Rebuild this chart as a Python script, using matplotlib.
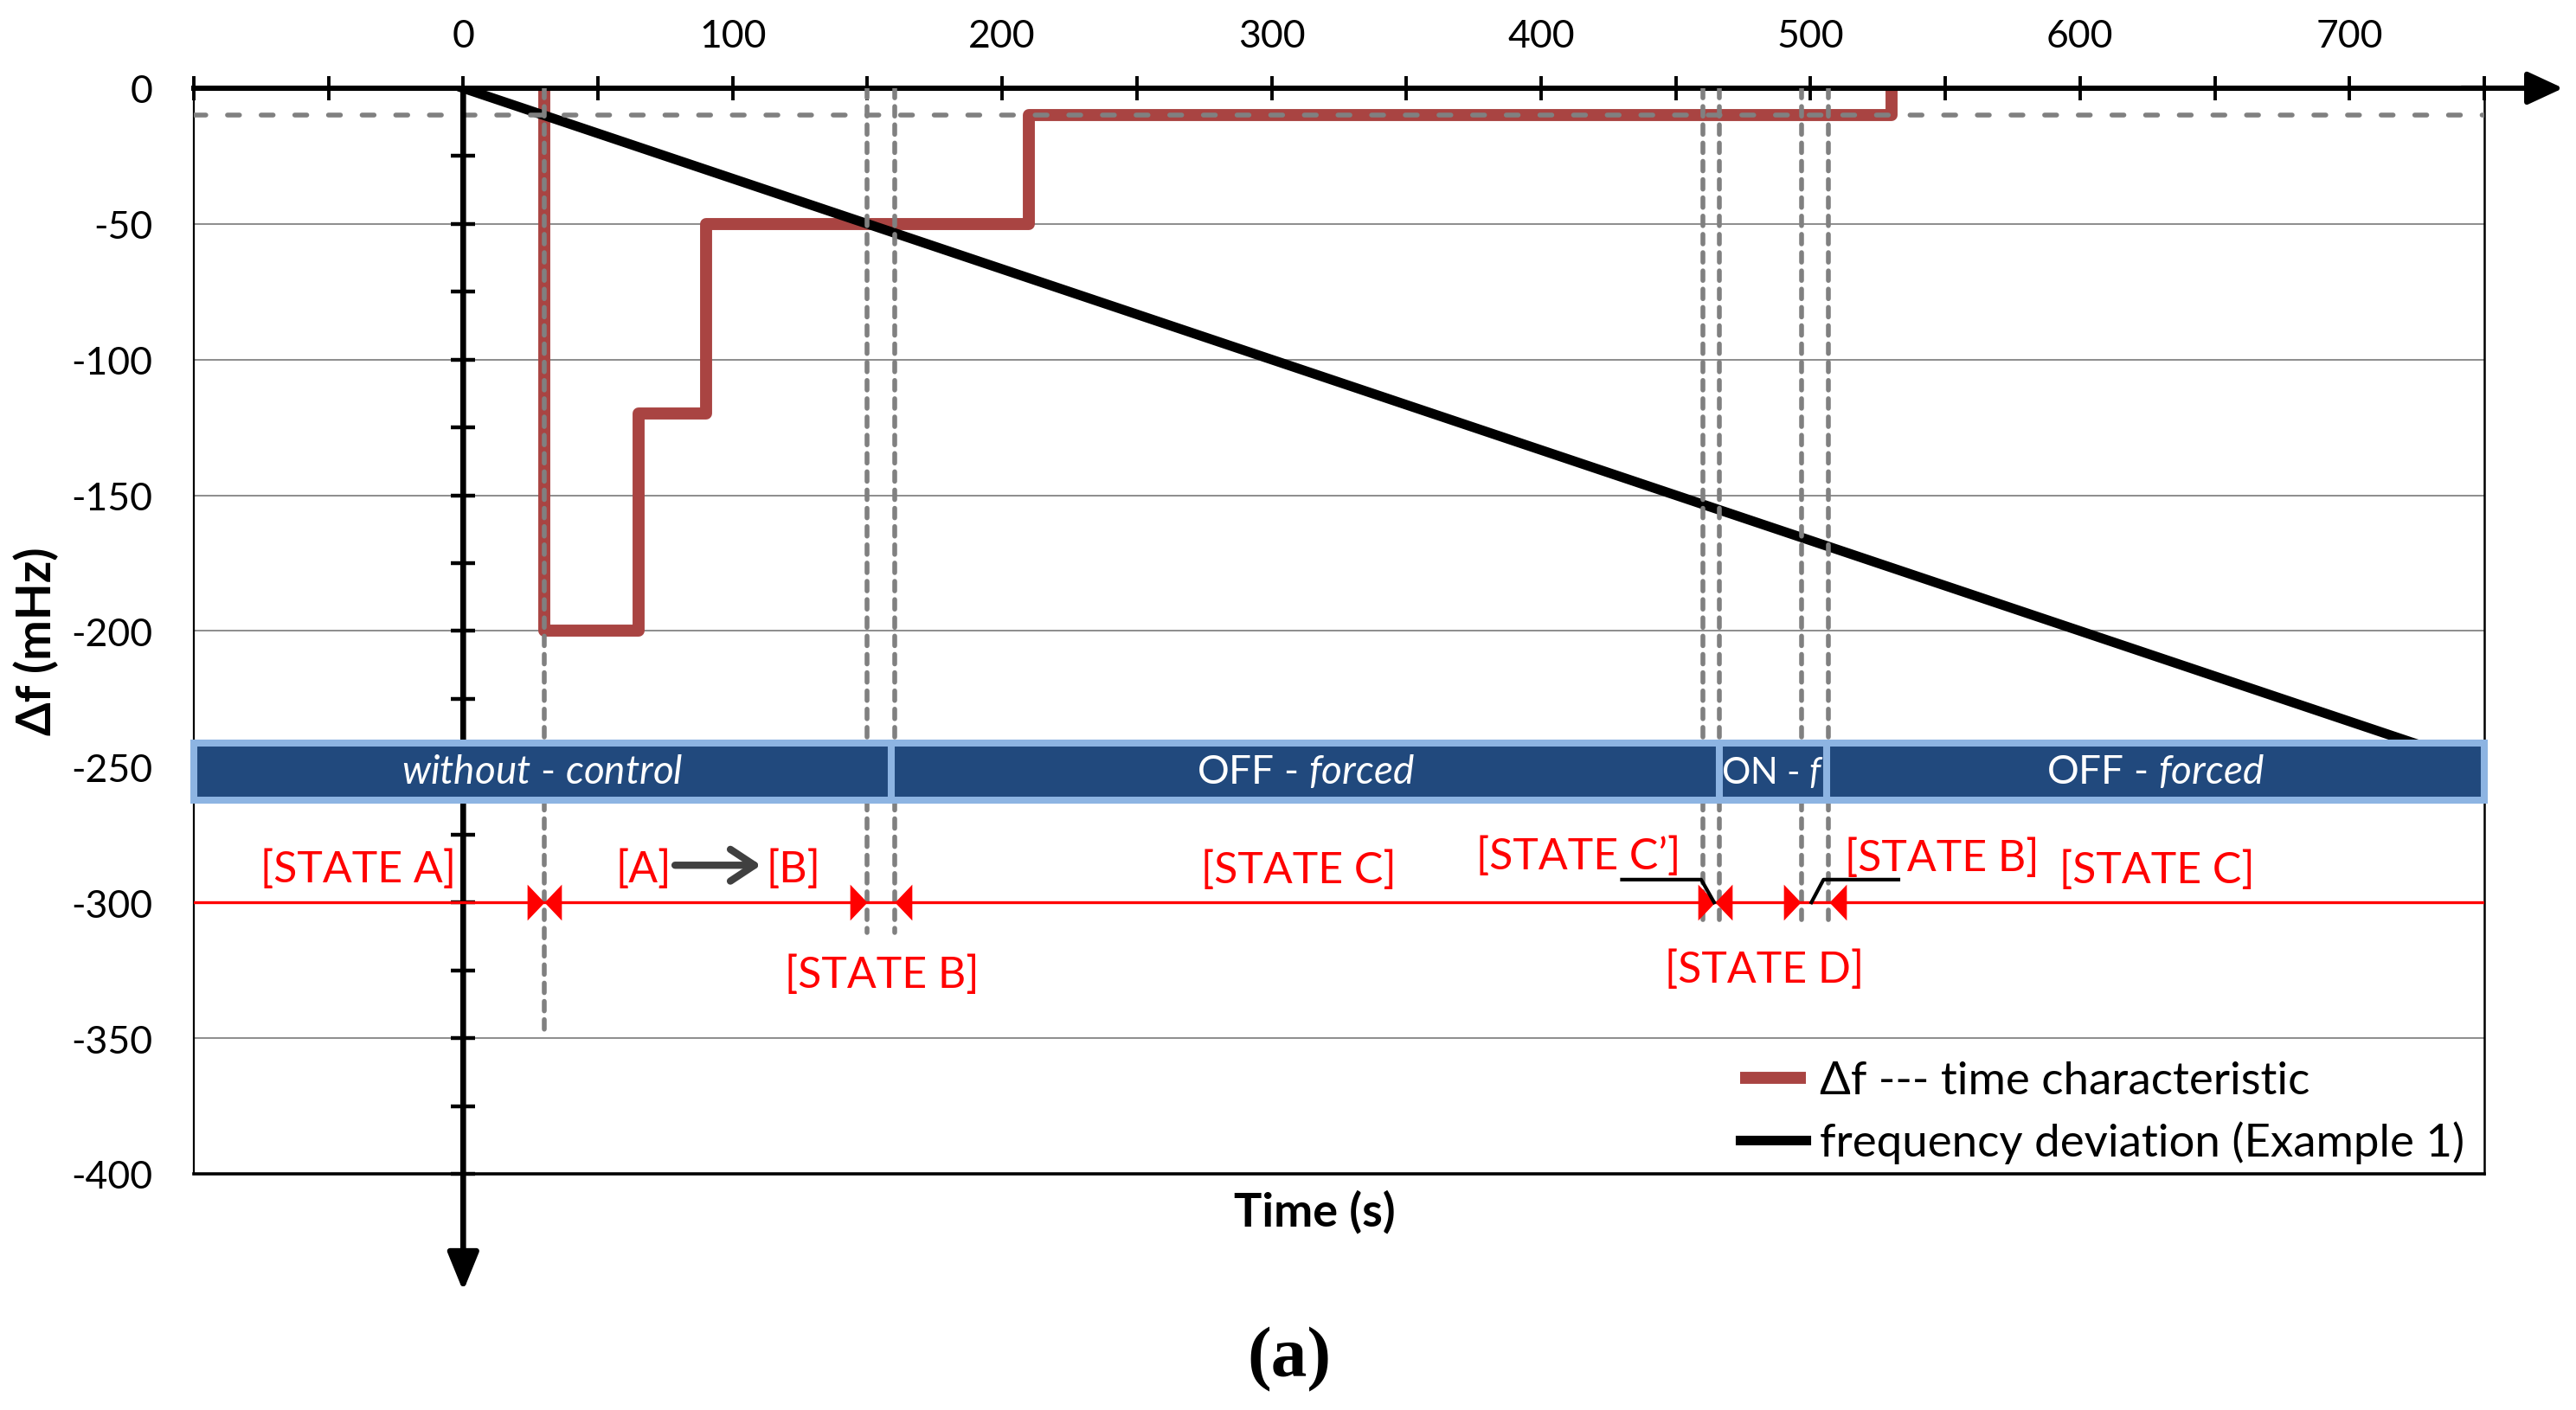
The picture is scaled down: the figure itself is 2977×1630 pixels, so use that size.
import numpy as np
import matplotlib
matplotlib.use("Agg")
import matplotlib.pyplot as plt
from matplotlib.path import Path
from matplotlib.patches import Rectangle

# ---- values ----
# Δf - time characteristic (step curve)
step_t = [30, 30, 65, 90, 210, 530]
step_df = [0, -200, -120, -50, -10, 0]
# frequency deviation, Example 1 (ramp)
ramp_t = [0, 750]
ramp_df = [0, -250]
threshold = -10

# dashed state boundaries: time and where the dashed line stops
bound_t = [30, 150, 160, 460, 466, 496.5, 506.5]
bound_end = [-347, -311, -311, -309, -309, -309, -309]

# mode band
band_edges = [-100, 159, 466, 506, 750]
band_names = [r"$\mathit{without}$ - $\mathit{control}$", r"OFF - $\mathit{forced}$",
              r"ON - $\mathit{f}$", r"OFF - $\mathit{forced}$"]
band_sizes = [16.5, 16.5, 15, 16.5]

# state line and arrow tips
state_y = -300
right_tips = [30, 150, 464.6, 496.4]
left_tips = [30, 160, 464.6, 507]
state_labels = ["[STATE A]", "[STATE B]", "[STATE C]", "[STATE C’]",
                "[STATE D]", "[STATE B]", "[STATE C]"]
state_x = [-39, 155.5, 310, 414, 483, 548.7, 628.6]
state_base = [-292.4, -331.3, -292.7, -287.4, -329.2, -288, -292.6]

# leader lines for C' and the second B
cprime_x, cprime_y = [430, 459.4, 464.2], [-291.6, -291.6, -300]
bcall_x, bcall_y = [500.3, 504.8, 532.6], [-300, -291.6, -291.6]

yticks = list(range(-400, 1, 50))
ytick_labels = [str(v) for v in yticks]
xticks = list(range(-100, 751, 50))
xtick_labels = [str(v) if (v % 100 == 0 and 0 <= v <= 700) else "" for v in xticks]
axis_marks = list(range(-25, -401, -25))

RED_STEP = "#A94442"
GREY = "#808080"
NAVY, LIGHT = "#21497D", "#8DB4E2"

plt.rcParams.update({
    "font.family": ["Lato", "DejaVu Sans"],
    "mathtext.fontset": "custom",
    "mathtext.rm": "Lato",
    "mathtext.it": "Lato:italic",
    "mathtext.bf": "Lato:bold",
})

fig = plt.figure(figsize=(14.885, 8.155), dpi=200)
ax = fig.add_axes([0.0752, 0.1674, 0.8892, 0.7695])
ax.set_xlim(-100, 750)
ax.set_ylim(-400, 0)

# axes decoration
ax.xaxis.tick_top()
ax.set_xticks(xticks)
ax.set_xticklabels(xtick_labels)
ax.set_yticks(yticks)
ax.set_yticklabels(ytick_labels)
ax.tick_params(axis="x", direction="inout", length=10, width=1.4, pad=9.5, labelsize=16)
ax.tick_params(axis="y", length=0, pad=17, labelsize=16)
ax.yaxis.grid(True, color="#8c8c8c", lw=0.7, zorder=0)
ax.set_axisbelow(True)
ax.spines["top"].set_linewidth(2.2)
ax.spines["left"].set_linewidth(0.8)
ax.spines["right"].set_linewidth(0.9)
ax.spines["bottom"].set_linewidth(1.3)

# curves
ax.plot(step_t, step_df, drawstyle="steps-post", color=RED_STEP, lw=5,
        solid_joinstyle="round", solid_capstyle="butt", zorder=2,
        label="Δf --- time characteristic")
ax.plot(ramp_t, ramp_df, color="black", lw=4, zorder=3,
        label="frequency deviation (Example 1)")

# dashed guides
ax.axhline(threshold, color=GREY, lw=2, dashes=(2.5, 4.5), dash_capstyle="round", zorder=3.5)
for t, e in zip(bound_t, bound_end):
    ax.plot([t, t], [0, e], color=GREY, lw=2.0, dashes=(2.0, 1.8),
            dash_capstyle="round", zorder=3.5)

# time axis through zero with arrow and small marks
ax.annotate("", xy=(0, -0.108), xytext=(0, 1.0), xycoords=ax.get_xaxis_transform(),
            textcoords=ax.get_xaxis_transform(), annotation_clip=False,
            arrowprops=dict(arrowstyle="-|>,head_length=13.5,head_width=5.5", lw=2.4,
                            color="black", shrinkA=0, shrinkB=0, mutation_scale=1), zorder=4)
ax.plot([0] * len(axis_marks), axis_marks, ls="none", marker="_", ms=10, mew=1.6,
        color="black", zorder=4, clip_on=False)
ax.annotate("", xy=(1.0344, 1), xytext=(0.99, 1), xycoords="axes fraction",
            annotation_clip=False,
            arrowprops=dict(arrowstyle="-|>,head_length=12.5,head_width=5.8", lw=2.2,
                            color="black", shrinkA=0, shrinkB=0, mutation_scale=1))

# mode band
for (e0, e1), name, fs in zip(zip(band_edges[:-1], band_edges[1:]), band_names, band_sizes):
    ax.add_patch(Rectangle((e0, -262.2), e1 - e0, 21, facecolor=NAVY, edgecolor=LIGHT,
                           lw=2.9, zorder=5, clip_on=False))
    ax.text((e0 + e1) / 2, -251.7, name, color="white", fontsize=fs,
            ha="center", va="center", zorder=5.5)

# state line with arrow heads
ax.axhline(state_y, color="red", lw=1.2, zorder=6)
tri_r = Path([(0, 0), (-1, 1.05), (-1, -1.05), (0, 0)],
             [Path.MOVETO, Path.LINETO, Path.LINETO, Path.CLOSEPOLY])
tri_l = Path([(0, 0), (1, 1.05), (1, -1.05), (0, 0)],
             [Path.MOVETO, Path.LINETO, Path.LINETO, Path.CLOSEPOLY])
ax.plot(right_tips, [state_y] * len(right_tips), ls="none", marker=tri_r, ms=15,
        color="red", mew=0, zorder=6)
ax.plot(left_tips, [state_y] * len(left_tips), ls="none", marker=tri_l, ms=15,
        color="red", mew=0, zorder=6)

for s, x, y in zip(state_labels, state_x, state_base):
    ax.text(x, y, s, color="red", fontsize=18, ha="center", va="baseline", zorder=7)
ax.text(67, -292.4, "[A]", color="red", fontsize=18, ha="center", va="baseline", zorder=7)
ax.text(122.6, -292.4, "[B]", color="red", fontsize=18, ha="center", va="baseline", zorder=7)
ax.annotate("", xy=(110.5, -286.3), xytext=(78.6, -286.3),
            arrowprops=dict(arrowstyle="->,head_length=0.5,head_width=0.33", color="#404040",
                            lw=3, mutation_scale=20, shrinkA=0, shrinkB=0,
                            capstyle="round", joinstyle="round"), zorder=7)

ax.plot(cprime_x, cprime_y, color="black", lw=1.5, zorder=6)
ax.plot(bcall_x, bcall_y, color="black", lw=1.5, zorder=6)

ax.legend(loc="upper left", bbox_to_anchor=(0.675, 0.104), frameon=False, fontsize=19,
          handlelength=1.45, handletextpad=0.3, labelspacing=0.42, borderpad=0,
          borderaxespad=0)

fig.text(0.0141, 0.5453, "Δf (mHz)", rotation=90, ha="center", va="center",
         fontsize=20, fontweight="bold")
fig.text(0.5102, 0.141, "Time (s)", ha="center", va="center", fontsize=19.5, fontweight="bold")
fig.text(0.5006, 0.036, "(a)", ha="center", va="center", fontsize=30, fontweight="bold",
         family=["Liberation Serif", "DejaVu Serif"])

fig.savefig("out.png", dpi=200)
